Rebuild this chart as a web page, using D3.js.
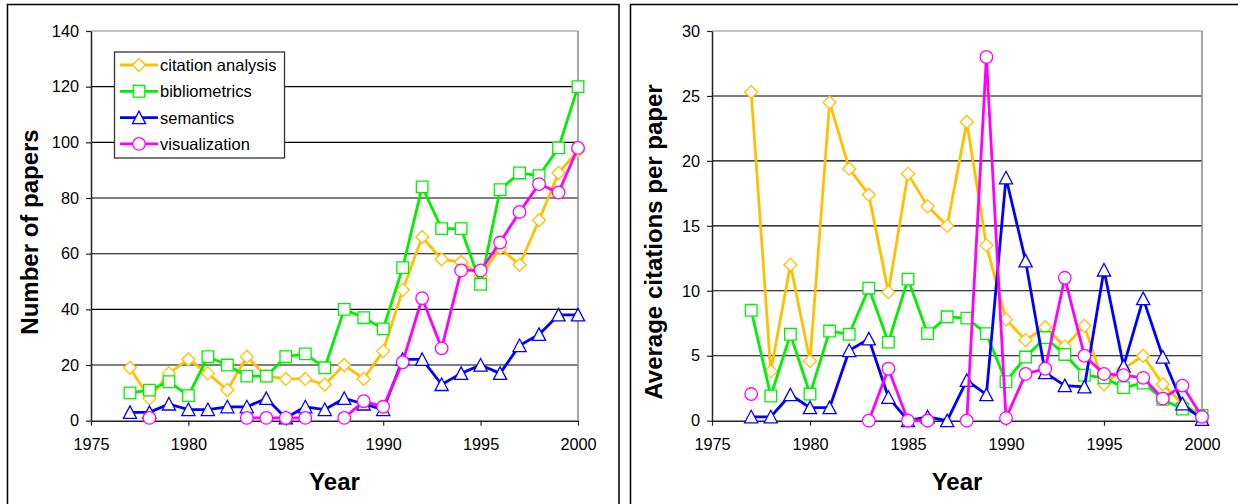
<!DOCTYPE html>
<html>
<head>
<meta charset="utf-8">
<script src="https://cdn.jsdelivr.net/npm/d3@7"></script>
<style>
  body { margin: 0; background: #fff; }
  svg { display: block; }
  text { font-family: "Liberation Sans", Arial, Helvetica, sans-serif; fill: #000; }
</style>
</head>
<body>
<svg id="chart" width="1238" height="504"></svg>
<script>
// Publication years
const years = [1977, 1978, 1979, 1980, 1981, 1982, 1983, 1984, 1985, 1986, 1987, 1988,
               1989, 1990, 1991, 1992, 1993, 1994, 1995, 1996, 1997, 1998, 1999, 2000];

// Number of papers per year
const papersCitation   = [19, 8, 17, 22, 17, 11, 23, 16, 15, 15, 13, 20, 15, 25, 47, 66, 58, 57, 52, 62, 56, 72, 89, 97];
const papersBiblio     = [10, 11, 14, 9, 23, 20, 16, 16, 23, 24, 19, 40, 37, 33, 55, 84, 69, 69, 49, 83, 89, 88, 98, 120];
const papersSemantics  = [3, 3, 6, 4, 4, 5, 5, 8, 1, 5, 4, 8, 6, 4, 22, 22, 13, 17, 20, 17, 27, 31, 38, 38];
const papersVisual     = [null, 1, null, null, null, null, 1, 1, 1, 1, null, 1, 7, 5, 21, 44, 26, 54, 54, 64, 75, 85, 82, 98];

// Average citations per paper
const citesCitation    = [25.3, 3.8, 12.0, 4.6, 24.5, 19.4, 17.4, 9.9, 19.0, 16.5, 15.0, 23.0, 13.5, 7.8, 6.2, 7.2, 5.7, 7.3, 2.8, 4.0, 5.0, 2.8, 1.3, 0.4];
const citesBiblio      = [8.5, 1.9, 6.65, 2.05, 6.9, 6.65, 10.2, 6.05, 10.9, 6.7, 8.0, 7.9, 6.7, 3.0, 4.9, 6.4, 5.1, 3.5, 3.3, 2.55, 2.9, 1.65, 0.9, 0.4];
const citesSemantics   = [0.3, 0.3, 2.0, 1.0, 1.0, 5.4, 6.3, 1.8, 0.0, 0.3, 0.0, 3.1, 2.0, 18.7, 12.3, 3.7, 2.7, 2.6, 11.6, 4.2, 9.4, 4.9, 1.3, 0.1];
const citesVisual      = [2.05, null, null, null, null, null, 0, 4.0, 0, 0, null, 0, 28.0, 0.2, 3.6, 4.0, 11.0, 5.0, 3.6, 3.5, 3.3, 1.7, 2.7, 0.3];

// Series names and axis ticks
const seriesNames = ["citation analysis", "bibliometrics", "semantics", "visualization"];
const xTicks = [1975, 1980, 1985, 1990, 1995, 2000];
const yTicksPapers = [0, 20, 40, 60, 80, 100, 120, 140];
const yTicksCites = [0, 5, 10, 15, 20, 25, 30];

const colors = ["#FFC000", "#00F000", "#0000FF", "#FF00FF"];
const shapes = ["diamond", "square", "triangle", "circle"];

const svg = d3.select("#chart");
svg.append("rect").attr("width", 1238).attr("height", 504).attr("fill", "#fff");

// Outer panel frames
svg.append("rect").attr("x", 7.5).attr("y", 4.5).attr("width", 611.5).attr("height", 520)
  .attr("fill", "none").attr("stroke", "#000").attr("stroke-width", 1.5);
svg.append("rect").attr("x", 630.5).attr("y", 4.5).attr("width", 640).attr("height", 520)
  .attr("fill", "none").attr("stroke", "#000").attr("stroke-width", 1.5);

function markerPath(shape) {
  switch (shape) {
    case "diamond": return "M0,-6.5L6.5,0L0,6.5L-6.5,0Z";
    case "square": return "M-5.8,-5.8H5.8V5.8H-5.8Z";
    case "triangle": return "M0,-6.5L6.6,6L-6.6,6Z";
    default: return d3.symbol(d3.symbolCircle, Math.PI * 6.3 * 6.3)();
  }
}

function drawPanel(opts) {
  const x = d3.scaleLinear().domain([1975, 2000]).range([opts.left, opts.right]);
  const y = d3.scaleLinear().domain([0, opts.yMax]).range([opts.bottom, opts.top]);
  const g = svg.append("g");

  // horizontal gridlines
  g.selectAll("line.grid").data(opts.yTicks.filter(v => v > 0)).join("line")
    .attr("x1", opts.left).attr("x2", opts.right)
    .attr("y1", d => y(d)).attr("y2", d => y(d))
    .attr("stroke", d => d === opts.yMax ? "#888" : "#000").attr("stroke-width", 1.1);

  // right edge of plot area
  g.append("line").attr("x1", opts.right).attr("x2", opts.right)
    .attr("y1", opts.top).attr("y2", opts.bottom)
    .attr("stroke", "#888").attr("stroke-width", 1.5);

  // y axis
  const yAxis = d3.axisLeft(y).tickValues(opts.yTicks).tickSize(5).tickPadding(7).tickSizeOuter(0);
  const ya = g.append("g").attr("transform", `translate(${opts.left},0)`).call(yAxis);
  // x axis
  const xAxis = d3.axisBottom(x).tickValues(xTicks).tickFormat(d3.format("d"))
    .tickSize(5).tickPadding(13).tickSizeOuter(0);
  const xa = g.append("g").attr("transform", `translate(0,${opts.bottom})`).call(xAxis);
  [ya, xa].forEach(a => {
    a.select(".domain").attr("stroke", "#222").attr("stroke-width", 1.5);
    a.selectAll(".tick line").attr("stroke", "#222").attr("stroke-width", 1.2);
    a.selectAll(".tick text").attr("font-size", 16.3).attr("fill", "#000")
      .style("font-family", '"Liberation Sans", Arial, sans-serif');
  });

  // axis titles
  g.append("text").attr("x", (opts.left + opts.right) / 2).attr("y", 490)
    .attr("text-anchor", "middle").attr("font-size", 24).attr("font-weight", "bold")
    .text("Year");
  g.append("text")
    .attr("transform", `translate(${opts.titleX},${opts.titleY}) rotate(-90)`)
    .attr("text-anchor", "middle").attr("font-size", 24).attr("font-weight", "bold")
    .text(opts.yTitle);

  // series lines and markers
  opts.series.forEach((vals, i) => {
    const pts = years.map((yr, k) => ({ yr, v: vals[k] }));
    const line = d3.line().defined(d => d.v !== null).x(d => x(d.yr)).y(d => y(d.v));
    g.append("path").attr("d", line(pts)).attr("fill", "none")
      .attr("stroke", colors[i]).attr("stroke-width", 2.8).attr("stroke-linejoin", "round");
    g.selectAll(null).data(pts.filter(d => d.v !== null)).join("path")
      .attr("d", markerPath(shapes[i]))
      .attr("transform", d => `translate(${x(d.yr)},${y(d.v)})`)
      .attr("fill", "#fff").attr("stroke", colors[i]).attr("stroke-width", 1.3);
  });
}

drawPanel({
  left: 91, right: 578, top: 31, bottom: 420.7, yMax: 140, yTicks: yTicksPapers,
  yTitle: "Number of papers", titleX: 38, titleY: 232,
  series: [papersCitation, papersBiblio, papersSemantics, papersVisual]
});

drawPanel({
  left: 712, right: 1202, top: 31, bottom: 420.7, yMax: 30, yTicks: yTicksCites,
  yTitle: "Average citations per paper", titleX: 662, titleY: 242,
  series: [citesCitation, citesBiblio, citesSemantics, citesVisual]
});

// Legend (left panel)
const lg = svg.append("g");
lg.append("rect").attr("x", 114.5).attr("y", 52).attr("width", 170).attr("height", 106)
  .attr("fill", "#fff").attr("stroke", "#333").attr("stroke-width", 1.3);
seriesNames.forEach((name, i) => {
  const cy = 65 + i * 26.3;
  lg.append("line").attr("x1", 120).attr("x2", 158).attr("y1", cy).attr("y2", cy)
    .attr("stroke", colors[i]).attr("stroke-width", 2.8);
  lg.append("path").attr("d", markerPath(shapes[i]))
    .attr("transform", `translate(139,${cy})`)
    .attr("fill", "#fff").attr("stroke", colors[i]).attr("stroke-width", 1.3);
  lg.append("text").attr("x", 160).attr("y", cy + 6).attr("font-size", 16.5).text(name);
});
</script>
</body>
</html>
